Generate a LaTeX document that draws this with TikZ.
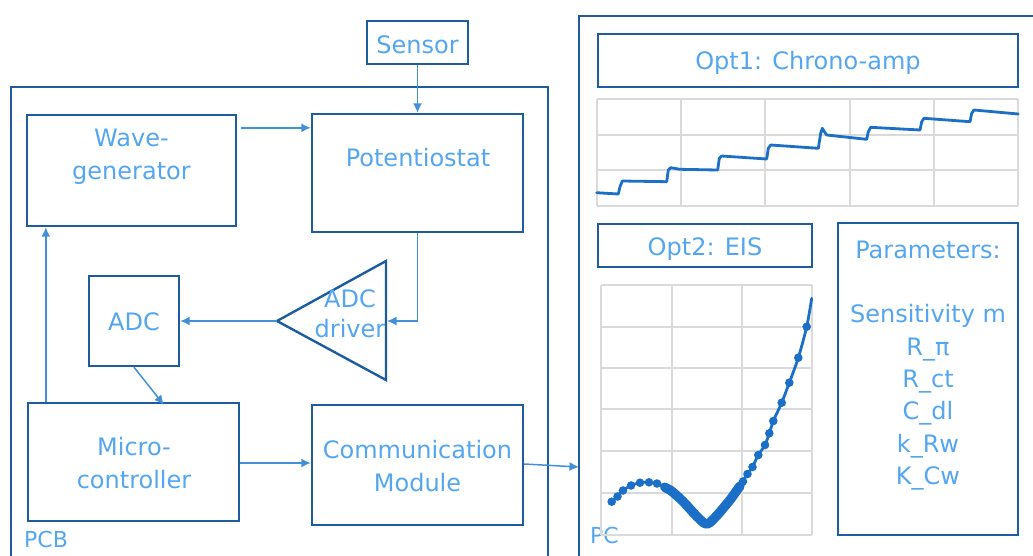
\documentclass[tikz,border=0pt]{standalone}
\usepackage{fontspec}
\setmainfont{DejaVu Sans}
\usetikzlibrary{arrows.meta,calc}
\definecolor{boxblue}{HTML}{1D5C9E}
\definecolor{wireblue}{HTML}{4390DA}
\definecolor{textblue}{HTML}{55A6F0}
\definecolor{traceblue}{HTML}{1B6FC6}
\definecolor{gridgray}{HTML}{DADADA}
\begin{document}
\begin{tikzpicture}[x=1pt,y=-1pt,
  blk/.style={draw=boxblue,line width=2.4pt,inner sep=0pt},
  lbl/.style={text=textblue,font=\fontsize{24}{33}\selectfont,align=center,inner sep=0pt},
  tag/.style={text=textblue,font=\fontsize{22}{26}\selectfont,inner sep=0pt,anchor=base west},
  wire/.style={draw=wireblue,line width=1.5pt},
  flow/.style={wire,-{Latex[length=9.5pt,width=9pt]}},
  gridline/.style={draw=gridgray,line width=1.3pt},
  trace/.style={draw=traceblue,line width=2.8pt,line join=round,line cap=round}]

\clip (0,0) rectangle (1033,555);
\fill[white] (0,0) rectangle (1033,555);

% ---------- containers ----------
\draw[blk] (11,87) rectangle (548,570);
\draw[blk] (579,16) rectangle (1045,570);
\node[tag] (pcb) at (24,547) {PCB};
\node[tag] (pc) at (590,543) {PC};

% ---------- board blocks ----------
\node[blk,minimum width=101pt,minimum height=43pt] (sensor) at (417.5,42.5) {};
\node[blk,minimum width=209pt,minimum height=111pt] (wave) at (131.5,170.5) {};
\node[blk,minimum width=211pt,minimum height=118pt] (pot) at (417.5,173) {};
\node[blk,minimum width=90pt,minimum height=90pt] (adc) at (134,321) {};
\node[blk,minimum width=211pt,minimum height=118pt] (micro) at (133.5,462) {};
\node[blk,minimum width=211pt,minimum height=120pt] (comm) at (417.5,465) {};

% ADC driver (amplifier triangle)
\coordinate (drvtip) at (277,321);
\coordinate (drvtop) at (386,261);
\coordinate (drvbot) at (386,380);
\coordinate (drvin) at (387,321);
\draw[blk,line join=miter] (drvtip) -- (drvtop) -- (drvbot) -- cycle;

% block texts
\node[lbl,anchor=base] (sensor-t) at (417.5,53) {Sensor};
\node[lbl,anchor=north] (wave-t) at (131.5,128.5) {Wave-\\generator};
\node[lbl,anchor=base] (pot-t) at (418,166) {Potentiostat};
\node[lbl,anchor=base] (adc-t) at (134,330) {ADC};
\node[lbl,anchor=north,font=\fontsize{24}{30}\selectfont] (drv-t) at (350,289) {ADC\\driver};
\node[lbl,anchor=north] (micro-t) at (134,437) {Micro-\\controller};
\node[lbl,anchor=north] (comm-t) at (417.5,440) {Communication\\Module};

% ---------- signal flow ----------
\draw[flow] (sensor) -- (pot);
\draw[flow] ($(wave.north east)+(4,14)$) -- ($(pot.north west)+(0,15)$);
\draw[flow] ($(micro.north west)+(19,0)$) -- ($(wave.south west)+(20,0)$);
\draw[flow] (pot.south) |- (drvin);
\draw[flow] (drvtip) -- (adc.east);
\draw[flow] (adc.south) -- ($(micro.north west)+(137,3)$);
\draw[flow] ($(micro.east)+(0,1)$) -- ($(comm.west)+(0,-2)$);
\coordinate (pcin) at (579,467);
\draw[flow] ($(comm.east)+(0,-1)$) -- (pcin);

% ---------- PC side ----------
\node[blk,minimum width=420pt,minimum height=53pt] (opt1) at (808,60.5) {};
\node[lbl,anchor=base] (opt1-t) at (808,69) {Opt1: Chrono-amp};
\node[blk,minimum width=214pt,minimum height=43pt] (opt2) at (705,245.5) {};
\node[lbl,anchor=base] (opt2-t) at (705,255) {Opt2: EIS};
\node[blk,minimum width=180pt,minimum height=312pt] (params) at (928,379) {};
\node[lbl,anchor=north,font=\fontsize{24}{32.3}\selectfont] (params-t) at (928,240.5)
  {Parameters:\\[32.3pt]Sensitivity m\\R\_π\\R\_ct\\C\_dl\\k\_Rw\\K\_Cw};

% chrono-amperometry chart
\foreach \x in {597,681,765,850,934,1018} \draw[gridline] (\x,99) -- (\x,206);
\foreach \y in {99,135,170,206} \draw[gridline] (597,\y) -- (1018,\y);
\draw[trace] plot coordinates {(596.7,192.7) (618.3,194) (620,186.7) (622.3,181)
  (666.7,181.7) (668.3,170) (670.7,167.7) (680,169.3) (717.7,170) (719.3,158.3)
  (721.7,156) (766.7,159) (768.3,148.3) (770.7,145) (818.3,148.3) (820.7,133.3)
  (822.3,128.3) (824.3,131.7) (826.7,135) (866.7,139.3) (868.3,131.7) (870.7,127.3)
  (920,130) (921.7,121.7) (924,118.3) (970,121.7) (971.7,113.3) (974,110) (1018.3,114)};

% impedance chart
\foreach \x in {601,672,742,812} \draw[gridline] (\x,285) -- (\x,535);
\foreach \y in {285,327,368,409,451,493,535} \draw[gridline] (601,\y) -- (812,\y);
\draw[trace] plot[smooth] coordinates {(611.7,501.7) (617.5,496.5) (623,490.5)
  (631,485.5) (640,482.7) (649,482.3) (657,483.5) (664.5,486.8) (670,490)
  (675,494) (680,498.5) (685,503.5) (690,509) (695,514.5) (700,519.5)
  (704,523) (707,524) (710,522.5) (715,517.5) (720,512) (725,506)
  (730,500) (735,493) (740,486) (746.7,475) (751.7,468.3) (758.3,455)
  (765,445) (769.3,433.3) (773.3,421) (781.7,402.7) (789.3,382.7)
  (798.3,357.7) (806.7,326.7) (811.7,298.3)};
\draw[traceblue,line width=9.5pt,line cap=round,line join=round] plot[smooth] coordinates {
  (665,487.5) (670,490) (675,494) (680,498.5) (685,503.5) (690,509)
  (695,514.5) (700,519.5) (704,523) (707,524) (710,522.5) (715,517.5) (720,512)
  (725,506) (730,500) (735,493) (740,486)};
\foreach \x/\y in {611.7/501.7,617.5/496.5,623/490.5,631/485.5,640/482.7,
  649/482.3,657/483.5,664.5/486.8,743/481.5,747.5/474,752.5/467,758.3/455,
  765/445,769.3/433.3,773.3/421,781.7/402.7,789.3/382.7,798.3/357.7,806.7/326.7}
  \fill[traceblue] (\x,\y) circle[radius=4.3pt];
\end{tikzpicture}
\end{document}
